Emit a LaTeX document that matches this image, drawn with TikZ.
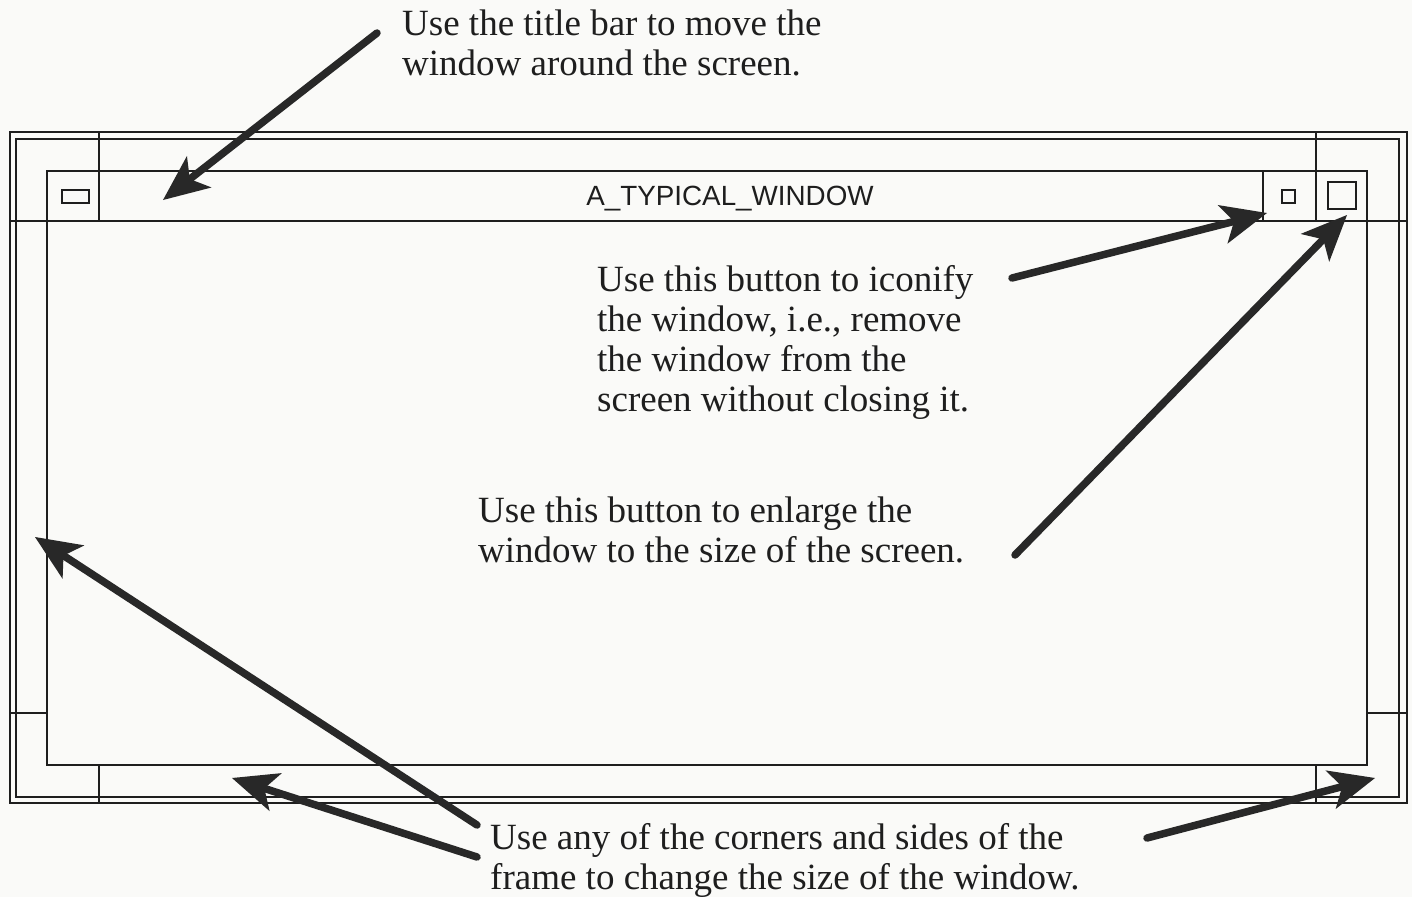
\documentclass[tikz,border=0pt]{standalone}
\usepackage{fontspec}
\setmainfont{Liberation Serif}
\setsansfont{Liberation Sans}
\usetikzlibrary{arrows.meta}
\definecolor{bg}{RGB}{250,250,248}
\definecolor{ink}{RGB}{30,30,30}
\definecolor{arr}{RGB}{40,40,40}
\tikzset{
  frameline/.style={draw=ink, line width=1.9pt},
  pointer/.style={draw=arr, line width=7.5pt, line cap=round,
    -{Stealth[length=46pt, width=40pt, inset=12pt, line width=0pt]}},
  note/.style={anchor=north west, inner sep=0pt, align=left, text=ink,
    font=\fontsize{37}{40}\selectfont},
  titletext/.style={inner sep=0pt, text=ink, font=\sffamily\fontsize{27.8}{30}\selectfont}
}
\begin{document}
\begin{tikzpicture}[x=1pt, y=-1pt]
\fill[bg] (0,0) rectangle (1412,897);
\useasboundingbox (0,0) rectangle (1412,897);
% frame
\draw[frameline] (10,132) rectangle (1407,803);
\draw[frameline] (16,139) rectangle (1399,797);
\draw[frameline] (47,171) rectangle (1367,765);
\draw[frameline] (10,221) -- (1407,221);
\draw[frameline] (99,132) -- (99,221);
\draw[frameline] (1316,132) -- (1316,221);
\draw[frameline] (1263,171) -- (1263,221);
\draw[frameline] (10,713) -- (47,713);
\draw[frameline] (1367,713) -- (1407,713);
\draw[frameline] (99,765) -- (99,803);
\draw[frameline] (1316,765) -- (1316,803);
% buttons
\draw[frameline] (62,190) rectangle (89,203);
\draw[frameline] (1282,190) rectangle (1295,203);
\draw[frameline] (1328,182) rectangle (1356,209);
% title
\node[titletext] (title) at (730,199) {A\_TYPICAL\_WINDOW};
% notes
\node[note] (move) at (402,10) {Use the title bar to move the\\window around the screen.};
\node[note] (iconify) at (597,265) {Use this button to iconify\\the window, i.e., remove\\the window from the\\screen without closing it.};
\node[note] (enlarge) at (478,497) {Use this button to enlarge the\\window to the size of the screen.};
\node[note] (resize) at (490,823) {Use any of the corners and sides of the\\frame to change the size of the window.};
% arrow endpoints
\coordinate (t1) at (377,33);   \coordinate (h1) at (163,200);
\coordinate (t2) at (1012,278); \coordinate (h2) at (1267,213);
\coordinate (t3) at (1015,555); \coordinate (h3) at (1347,215);
\coordinate (t4) at (477,825);  \coordinate (h4) at (35,537);
\coordinate (t5) at (477,857);  \coordinate (h5) at (232,778);
\coordinate (t6) at (1147,838); \coordinate (h6) at (1375,778);
\draw[pointer] (t1) -- (h1);
\draw[pointer] (t2) -- (h2);
\draw[pointer] (t3) -- (h3);
\draw[pointer] (t4) -- (h4);
\draw[pointer] (t5) -- (h5);
\draw[pointer] (t6) -- (h6);
\end{tikzpicture}
\end{document}
